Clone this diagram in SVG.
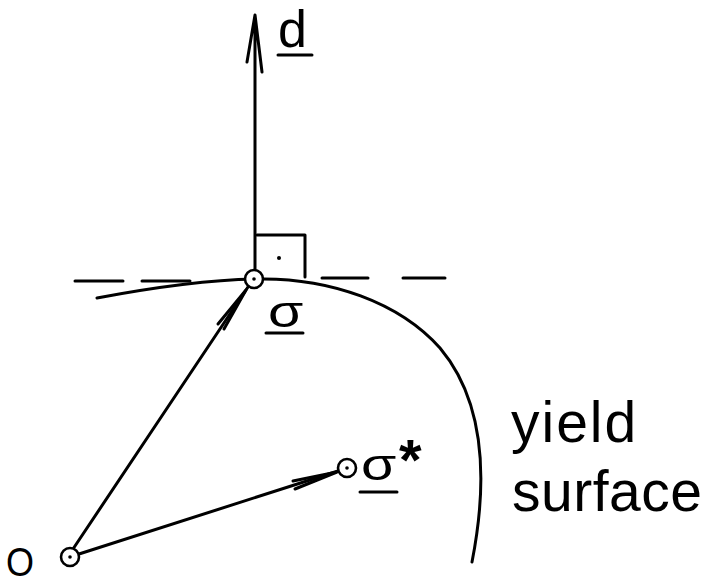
<svg xmlns="http://www.w3.org/2000/svg" width="703" height="586" viewBox="0 0 703 586">
<style>
.ln{fill:none;stroke:#000;stroke-width:3;stroke-linecap:round;stroke-linejoin:round}
.pt{fill:#fff;stroke:#000;stroke-width:2.6}
.dot{fill:#000}
.t{font-family:"Liberation Sans",Arial,sans-serif;fill:#000}
</style>
<rect width="703" height="586" fill="#fff"/>
<g id="yield-surface">
<path class="ln" d="M97,298 C150,288 210,280 255,279 C330,277 400,303 440,348 C482,398 490,470 472,562"/>
<text class="t" x="511" y="442" font-size="57" letter-spacing="2">yield</text>
<text class="t" x="512" y="511" font-size="57" letter-spacing="0.5">surface</text>
</g>
<g id="tangent">
<path class="ln" d="M75,281 H123 M142,281 H190 M322,278 H368 M403,278 H445"/>
</g>
<g id="right-angle">
<path class="ln" d="M257,235 H305 V277"/>
<circle class="dot" cx="279" cy="258" r="2"/>
</g>
<g id="connectors">
<path class="ln" d="M255,270 V15 M247,62 L255,15 L262,72"/>
<path class="ln" d="M73,549 L248,287"/>
<path class="ln" d="M246,290 L224,329 M246,290 L218,324"/>
<path class="ln" d="M79,554 L338,471"/>
<path class="ln" d="M337,472 L295,489 M337,472 L293,481"/>
</g>
<g id="d-label">
<text class="t" x="278" y="47" font-size="52">d</text>
<path class="ln" d="M278,55 H312"/>
</g>
<g id="sigma">
<circle class="pt" cx="254" cy="279" r="9"/>
<circle class="dot" cx="254" cy="279" r="1.8"/>
<text class="t" x="268" y="327" font-size="44" transform="translate(268,0) scale(1.3,1) translate(-268,0)">σ</text>
<path class="ln" d="M266,333 H303"/>
</g>
<g id="sigma-star">
<circle class="pt" cx="347" cy="468" r="9"/>
<circle class="dot" cx="347" cy="468" r="1.8"/>
<text class="t" x="361" y="480" font-size="44" transform="translate(361,0) scale(1.3,1) translate(-361,0)">σ</text>
<text class="t" x="399" y="480" font-size="58" font-weight="bold">*</text>
<path class="ln" d="M360,492 H397"/>
</g>
<g id="origin">
<circle class="pt" cx="70" cy="557" r="9"/>
<circle class="dot" cx="70" cy="557" r="1.8"/>
<text class="t" x="6" y="576" font-size="40" transform="translate(6,0) scale(0.9,1) translate(-6,0)">O</text>
</g>
</svg>
